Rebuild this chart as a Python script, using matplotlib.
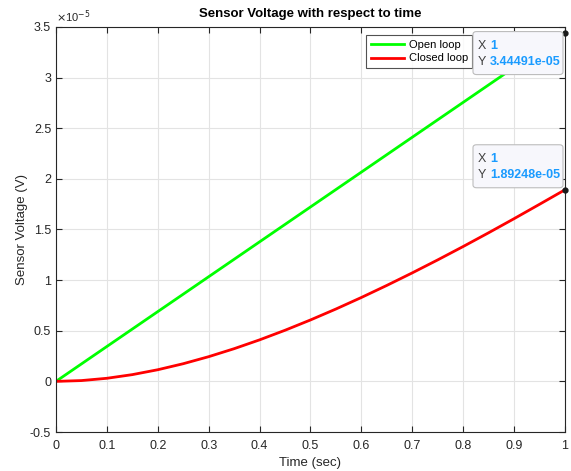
import matplotlib
matplotlib.use("Agg")
import matplotlib.pyplot as plt
from matplotlib.patches import FancyBboxPatch
from matplotlib.ticker import FuncFormatter, MultipleLocator

plt.rcParams["font.family"] = ["Liberation Sans", "DejaVu Sans"]

# values (voltage in units of 1e-5 V)
time_s = [0.0, 0.05, 0.1, 0.15, 0.2, 0.25, 0.3, 0.35, 0.4, 0.45, 0.5,
          0.55, 0.6, 0.65, 0.7, 0.75, 0.8, 0.85, 0.9, 0.95, 1.0]
open_loop = [0.0, 0.1722, 0.3445, 0.5167, 0.689, 0.8612, 1.0335, 1.2057, 1.378,
             1.5502, 1.7225, 1.8947, 2.0669, 2.2392, 2.4114, 2.5837, 2.7559,
             2.9282, 3.1004, 3.2727, 3.44491]
closed_loop = [0.0, 0.0079, 0.0305, 0.0666, 0.1149, 0.1744, 0.2439, 0.3228, 0.41,
               0.5048, 0.6066, 0.7147, 0.8286, 0.9478, 1.0717, 1.1999, 1.3321,
               1.4679, 1.607, 1.7491, 1.89248]
scale = 1e-5

tip_x = [1.0, 1.0]
tip_y = [3.44491, 1.89248]
tip_text = ["3.44491e-05", "1.89248e-05"]

axis_col = "#262626"
tip_blue = "#1A9BFF"

fig = plt.figure(figsize=(5.71, 4.71), dpi=100)
ax = fig.add_axes([0.098, 0.0828, 0.8915, 0.8599])

ax.plot(time_s, [v * scale for v in open_loop], color="#00FF00", lw=2.0, label="Open loop")
ax.plot(time_s, [v * scale for v in closed_loop], color="#FF0000", lw=2.0, label="Closed loop")

ax.set_xlim(0, 1)
ax.set_ylim(-0.5 * scale, 3.5 * scale)
ax.xaxis.set_major_locator(MultipleLocator(0.1))
ax.yaxis.set_major_locator(MultipleLocator(0.5 * scale))
ax.xaxis.set_major_formatter(FuncFormatter(lambda v, p: "%g" % round(v, 3)))
ax.yaxis.set_major_formatter(FuncFormatter(lambda v, p: "%g" % round(v / scale, 3)))

ax.grid(True, color="#E3E3E3", lw=0.8)
ax.set_axisbelow(True)
for s in ax.spines.values():
    s.set_color(axis_col)
    s.set_linewidth(0.8)
ax.tick_params(direction="in", top=True, right=True, length=4, width=0.8,
               colors=axis_col, labelsize=9, labelcolor=axis_col)
ax.tick_params(axis="x", pad=6)

ax.text(0.0, 1.005, r"$\times$10$^{-5}$", transform=ax.transAxes, fontsize=8,
        color=axis_col, ha="left", va="bottom")

ax.set_title("Sensor Voltage with respect to time", fontsize=9.5, fontweight="bold",
             color="black", pad=7)
ax.set_xlabel("Time (sec)", fontsize=9.5, color=axis_col, labelpad=3)
ax.set_ylabel("Sensor Voltage (V)", fontsize=9.5, color=axis_col, labelpad=1)

leg = ax.legend(loc="upper left", bbox_to_anchor=(0.610, 0.980), fontsize=8,
                frameon=True, fancybox=False, edgecolor=axis_col, handlelength=3.0,
                borderpad=0.4, labelspacing=0.35, handletextpad=0.4,
                borderaxespad=0)
leg.get_frame().set_linewidth(0.8)

# data tips, drawn in figure pixels (y up) relative to each marked point
W, H = 571, 471
tip_box_top = [1, 45]  # box top relative to the point, pixels (up positive)
for xv, yv, txt, top in zip(tip_x, tip_y, tip_text, tip_box_top):
    ax.plot([xv], [yv * scale], "o", color="#1a1a1a", ms=3.5, clip_on=False, zorder=5)
    px, py = ax.transData.transform((xv, yv * scale))
    left = px - 92
    ytop = py + top
    box = FancyBboxPatch((left / W, (ytop - 43) / H), 90 / W, 43 / H,
                         boxstyle="round,pad=0,rounding_size=0.006",
                         transform=fig.transFigure, fc="#F7F7FC", ec="#BDBDBD",
                         lw=0.8, zorder=6)
    fig.add_artist(box)
    for row, (lab, val) in enumerate([("X", "1"), ("Y", txt)]):
        yy = (ytop - 14 - 16 * row) / H
        fig.text((left + 5) / W, yy, lab, fontsize=9, color="#404040",
                 ha="left", va="center", zorder=7)
        fig.text((left + 17) / W, yy, val, fontsize=9, color=tip_blue,
                 fontweight="bold", ha="left", va="center", zorder=7)

fig.savefig("out.png", dpi=100)
